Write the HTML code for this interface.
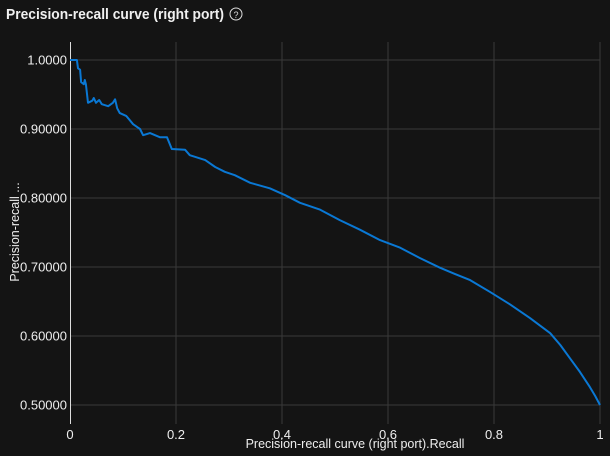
<!DOCTYPE html>
<html><head><meta charset="utf-8"><style>
html,body{margin:0;padding:0;background:#141414;width:610px;height:456px;overflow:hidden;font-family:"Liberation Sans",sans-serif;}
</style></head><body>
<svg width="610" height="456">
<text x="6" y="19" fill="#f0f0f0" font-size="14.5" font-weight="bold" textLength="218" lengthAdjust="spacingAndGlyphs">Precision-recall curve (right port)</text>
<g><circle cx="236" cy="14" r="6" fill="none" stroke="#ddd" stroke-width="1"/><text x="236" y="18" fill="#ddd" font-size="9" text-anchor="middle">?</text></g>
<g id="grid"></g><g id="axes"></g>
<path id="curve" fill="none" stroke="#0a78d4" stroke-width="2" stroke-linejoin="round"/>
<text transform="translate(19,232) rotate(-90)" fill="#eee" font-size="12.5" text-anchor="middle">Precision-recall ...</text>
<text x="355" y="448" fill="#eee" font-size="12.5" text-anchor="middle">Precision-recall curve (right port).Recall</text>
</svg>
<script>
const recall=[0,.013,.015,.019,.021,.026,.028,.030,.034,.042,.045,.049,.055,.06,.072,.081,.085,.089,.094,.106,.119,.132,.138,.151,.170,.183,.192,.217,.226,.255,.274,.292,.311,.34,.377,.406,.434,.472,.509,.547,.585,.623,.66,.698,.726,.755,.792,.83,.868,.906,.925,.943,.962,.981,.991,1];
const precision=[1,1,.988,.986,.968,.965,.971,.965,.938,.941,.945,.938,.942,.936,.933,.938,.943,.930,.923,.919,.907,.900,.891,.894,.888,.888,.871,.870,.862,.855,.845,.838,.833,.822,.814,.804,.793,.783,.768,.754,.739,.728,.713,.699,.690,.681,.664,.646,.626,.604,.587,.568,.548,.526,.513,.5];
const xTicks=[0,0.2,0.4,0.6,0.8,1];
const xTickLabels=["0","0.2","0.4","0.6","0.8","1"];
const yTicks=[0.5,0.6,0.7,0.8,0.9,1.0];
const yTickLabels=["0.50000","0.60000","0.70000","0.80000","0.90000","1.0000"];
const X=v=>70+v*530, Y=v=>60+(1-v)*690;
const ns="http://www.w3.org/2000/svg";
const g=document.getElementById('grid'), a=document.getElementById('axes');
function el(t,at,p){const e=document.createElementNS(ns,t);for(const k in at)e.setAttribute(k,at[k]);p.appendChild(e);return e;}
xTicks.forEach((v,i)=>{
 if(i>0){const l=el('line',{x1:X(v),x2:X(v),y1:42,y2:424,stroke:'#3a3a3a'},g);
 
 }
 const t=el('text',{x:X(v),y:439,fill:'#eee','font-size':13,'text-anchor':'middle'},a);t.textContent=xTickLabels[i];
 
 
});
yTicks.forEach((v,i)=>{
 const l=el('line',{x1:70,x2:600,y1:Y(v),y2:Y(v),stroke:'#3a3a3a'},g);
 
 
 const t=el('text',{x:67,y:Y(v)+4.5,fill:'#eee','font-size':13,'text-anchor':'end'},a);t.textContent=yTickLabels[i];
 
 
});
const ax=el('line',{x1:70.5,x2:70.5,y1:42,y2:424,stroke:'#ddd'},a);


document.getElementById('curve').setAttribute('d',recall.map((r,i)=>(i?'L':'M')+X(r).toFixed(1)+','+Y(precision[i]).toFixed(1)).join(''));
</script>
</body></html>
